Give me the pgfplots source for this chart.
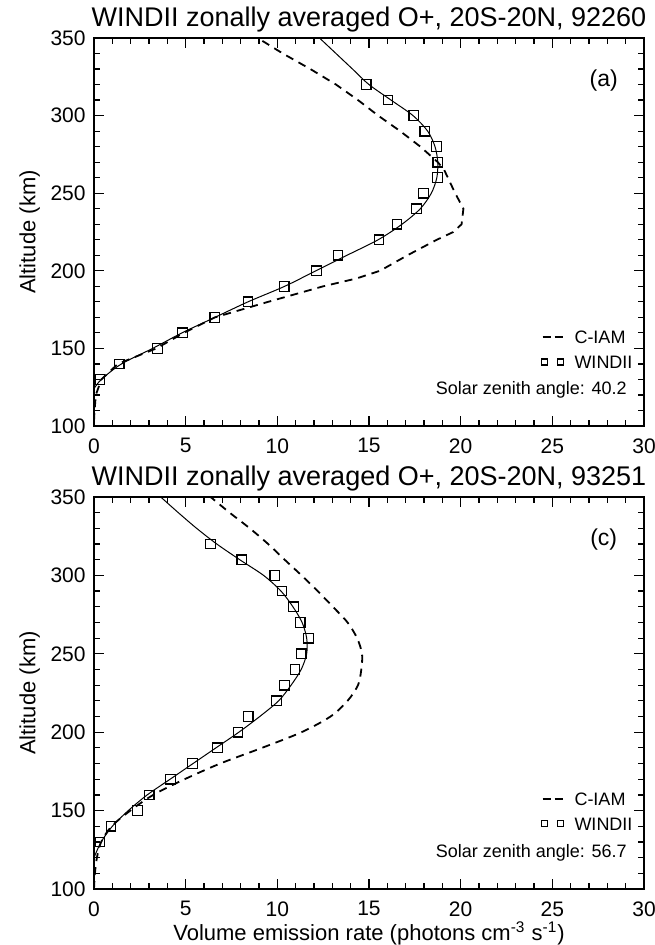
\documentclass[border=0pt]{standalone}
\usepackage{fontspec}
\setmainfont{Liberation Sans}
\usepackage{pgfplots}
\usepackage{pgfplotstable}
\pgfplotsset{compat=1.18}

% panel (a), day 92260
\pgfplotstableread{
x y
0.32 130
1.38 140
3.47 150
4.82 160
6.59 170
8.40 180
10.37 190
12.14 200
13.31 210
15.54 220
16.53 230
17.58 240
17.97 250
18.73 260
18.75 270
18.68 280
18.04 290
17.44 300
16.04 310
14.85 320
}\windiiA
\pgfplotstableread{
x y
0 124
0.4 130
1.5 140
3.2 150
4.8 160
6.6 170
8.4 180
10.4 190
12.1 200
13.8 210
15.5 220
16.8 230
17.8 240
18.4 250
18.7 260
18.75 270
18.6 280
18.2 290
17.4 300
16.2 310
15.0 320
14.1 330
13.2 340
12.3 350
}\fitA
\pgfplotstableread{
x y
0 103
0.03 110
0.1 120
0.4 130
1.3 140
3.4 150
4.9 160
6.6 170
9.5 180
12.5 190
14.3 195
15.6 200
17.1 210
18.7 220
19.6 225
20.05 230
20.15 240
19.7 250
19.3 260
19.1 265
18.75 270
17.8 280
16.7 290
15.5 300
14.4 310
13.2 320
11.8 330
10.3 340
8.93 350
}\ciamA

% panel (c), day 93251
\pgfplotstableread{
x y
0.32 130
0.93 140
2.37 150
3.01 160
4.17 170
5.38 180
6.74 190
7.86 200
8.41 210
9.95 220
10.39 230
10.96 240
11.30 250
11.71 260
11.25 270
10.89 280
10.25 290
9.86 300
8.06 310
6.36 320
}\windiiC
\pgfplotstableread{
x y
0 120
0.39 130
1.0 140
1.87 150
2.9 160
4.15 170
5.4 180
6.65 190
7.9 200
9.04 210
10.07 220
10.75 230
11.3 240
11.6 250
11.6 260
11.35 270
10.85 280
10.2 290
9.25 300
7.95 310
6.7 320
5.6 330
4.6 340
3.64 350
}\fitC
\pgfplotstableread{
x y
0 100
0.05 110
0.16 120
0.39 130
0.96 140
1.98 150
3.23 160
4.94 170
6.88 180
9.16 190
11.32 200
12.9 210
13.83 220
14.4 230
14.58 240
14.62 250
14.35 260
13.83 270
13.03 280
12.2 290
11.32 300
10.4 310
9.5 320
8.5 330
7.4 340
6.36 350
}\ciamC

\pgfplotsset{
  profile/.style={
    scale only axis, width=275pt,
    xmin=0, xmax=30, ymin=100, ymax=350,
    xtick={0,5,...,30}, ytick={100,150,...,350},
    minor x tick num=4, minor y tick num=4,
    tick align=inside, tick pos=both,
    major tick length=5pt, minor tick length=2.8pt,
    axis line style={line width=0.7pt},
    every tick/.style={black, line width=0.6pt},
    /pgf/number format/assume math mode=true,
    tick label style={font=\fontsize{10.5}{12}\selectfont},
    xticklabel style={inner sep=0pt, yshift=-6pt},
    yticklabel style={inner sep=0pt, xshift=-4pt},
    title style={at={(0.5,1)}, anchor=base, yshift=-0.5pt,
      font=\fontsize{13.5}{16}\selectfont},
    ylabel={Altitude (km)},
    ylabel style={at={(axis description cs:-0.117,0.5)}, anchor=center,
      font=\fontsize{11}{13}\selectfont},
    legend style={draw=none, fill=none, anchor=west,
      font=\fontsize{9}{10}\selectfont, row sep=3.5pt, column sep=4.5pt,
      nodes={inner sep=1pt, text height=7pt, text depth=0pt},
      cells={anchor=west}},
  },
  ciam/.style={black, line width=0.9pt, dash pattern=on 4pt off 3pt,
    legend image code/.code={\draw[##1, dash pattern=on 4pt off 2pt]
      (0pt,0pt) -- (10pt,0pt);}},
  windii/.style={black, only marks, mark=square, mark size=2.4pt,
    mark options={line width=0.6pt},
    legend image code/.code={\draw[##1, mark size=1.5pt]
      plot coordinates {(1pt,0pt) (9pt,0pt)};}},
  fit/.style={black, line width=0.5pt, smooth, forget plot},
}

\begin{document}
\begin{tikzpicture}
\begin{axis}[profile, height=194pt, at={(0pt,0pt)}, anchor=south west,
    title={WINDII zonally averaged O+, 20S-20N, 92260},
    legend style={at={(axis cs:24.06,149.3)}}]
  \addplot[ciam] table[x=x, y=y] {\ciamA};
  \addlegendentry{C-IAM}
  \addplot[windii] table[x=x, y=y] {\windiiA};
  \addlegendentry{WINDII}
  \addplot[fit] table[x=x, y=y] {\fitA};
  \node[font=\fontsize{11.5}{13}\selectfont] at (axis cs:27.8,322.7) {(a)};
  \node[font=\fontsize{9}{10}\selectfont] at (axis cs:23.85,123.6) {Solar zenith angle: 40.2};
\end{axis}
\begin{axis}[profile, height=196pt, at={(0pt,-231.5pt)}, anchor=south west,
    title={WINDII zonally averaged O+, 20S-20N, 93251},
    xlabel={Volume emission rate (photons cm\textsuperscript{-3} s\textsuperscript{-1})},
    xlabel style={at={(axis description cs:0.5,0)}, anchor=base, yshift=-25.5pt,
      font=\fontsize{11}{13}\selectfont},
    legend style={at={(axis cs:24.06,149.5)}}]
  \addplot[ciam, smooth] table[x=x, y=y] {\ciamC};
  \addlegendentry{C-IAM}
  \addplot[windii] table[x=x, y=y] {\windiiC};
  \addlegendentry{WINDII}
  \addplot[fit] table[x=x, y=y] {\fitC};
  \node[font=\fontsize{11.5}{13}\selectfont] at (axis cs:27.8,322.8) {(c)};
  \node[font=\fontsize{9}{10}\selectfont] at (axis cs:23.85,123.2) {Solar zenith angle: 56.7};
\end{axis}
\pgfresetboundingbox
\path (-47pt,-259.5pt) rectangle (280pt,213pt);
\end{tikzpicture}
\end{document}
